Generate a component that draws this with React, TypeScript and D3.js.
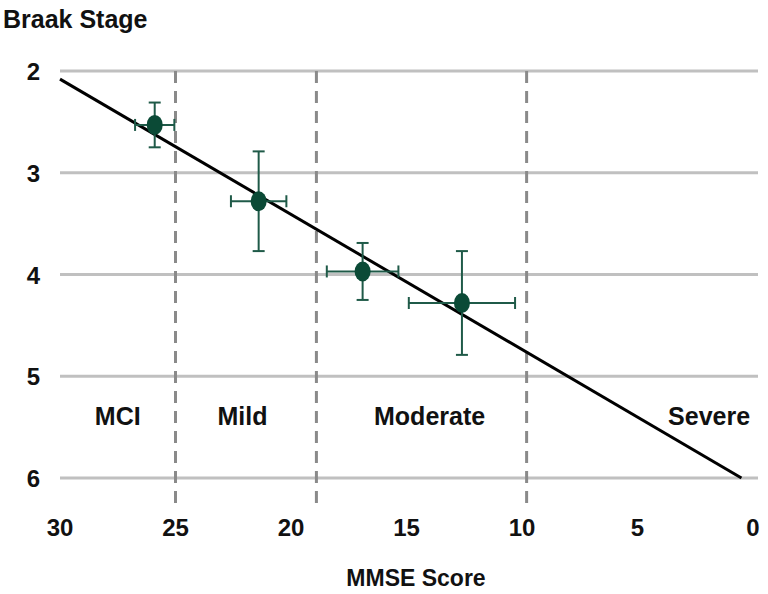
import React from "react";
import * as d3 from "d3";

// MMSE score (x) and Braak stage (y) with error bars
const mmse = [25.9, 21.4, 16.9, 12.6];
const mmseErr = [0.85, 1.2, 1.55, 2.3];
const braak = [2.53, 3.28, 3.97, 4.28];
const braakErr = [0.22, 0.49, 0.28, 0.51];

// fitted line endpoints
const fitX = [30, 0.5];
const fitY = [2.08, 6.0];

// stage boundaries and labels
const boundaries = [25, 18.9, 9.8];
const stageNames = ["MCI", "Mild", "Moderate", "Severe"];
const stageLabelX = [27.5, 22.1, 14.0, 1.9];

const xTicks = [30, 25, 20, 15, 10, 5, 0];
const yTicks = [2, 3, 4, 5, 6];

const W = 768;
const H = 594;
const FONT = "'Liberation Sans', Arial, sans-serif";

export default function App() {
  const x = d3.scaleLinear().domain([30, 0]).range([60, 753]);
  const y = d3.scaleLinear().domain([2, 6]).range([71, 478]);
  const line = d3
    .line<number>()
    .x((_, i) => x(fitX[i]))
    .y((d) => y(d));

  const markerColor = "#0b4a36";
  const errColor = "#1f5a48";
  const cap = 6;

  return (
    <svg
      width={W}
      height={H}
      style={{ position: "absolute", left: 0, top: 0, background: "#fff" }}
      fontFamily={FONT}
      fontWeight="bold"
    >
      {/* gridlines */}
      {yTicks.map((t) => (
        <line
          key={"g" + t}
          x1={60}
          x2={758}
          y1={y(t)}
          y2={y(t)}
          stroke="#c0c0c0"
          strokeWidth={3}
        />
      ))}
      {/* stage boundary dashed lines */}
      {boundaries.map((b) => (
        <line
          key={"b" + b}
          x1={x(b)}
          x2={x(b)}
          y1={y(2)}
          y2={510}
          stroke="#8a8a8a"
          strokeWidth={3}
          strokeDasharray="12 8"
        />
      ))}
      {/* y tick labels */}
      {yTicks.map((t) => (
        <text
          key={"yl" + t}
          x={40}
          y={y(t) + 9}
          textAnchor="end"
          fontSize={24}
          fill="#111"
        >
          {t}
        </text>
      ))}
      {/* x tick labels */}
      {xTicks.map((t) => (
        <text
          key={"xl" + t}
          x={x(t)}
          y={536}
          textAnchor="middle"
          fontSize={24}
          fill="#111"
        >
          {t}
        </text>
      ))}
      {/* stage labels */}
      {stageNames.map((s, i) => (
        <text
          key={s}
          x={x(stageLabelX[i])}
          y={425}
          textAnchor="middle"
          fontSize={25}
          fill="#111"
        >
          {s}
        </text>
      ))}
      {/* axis titles */}
      <text x={3} y={28} fontSize={25} fill="#111">
        Braak Stage
      </text>
      <text x={416} y={586} textAnchor="middle" fontSize={23} fill="#111">
        MMSE Score
      </text>

      {/* fitted line */}
      <path d={line(fitY) || ""} fill="none" stroke="#000" strokeWidth={3} />

      {/* error bars */}
      {mmse.map((m, i) => {
        const cx = x(m);
        const cy = y(braak[i]);
        const x1 = x(m + mmseErr[i]);
        const x2 = x(m - mmseErr[i]);
        const y1 = y(braak[i] - braakErr[i]);
        const y2 = y(braak[i] + braakErr[i]);
        return (
          <g key={"e" + i} stroke={errColor} strokeWidth={2}>
            <line x1={x1} x2={x2} y1={cy} y2={cy} />
            <line x1={x1} x2={x1} y1={cy - cap} y2={cy + cap} />
            <line x1={x2} x2={x2} y1={cy - cap} y2={cy + cap} />
            <line x1={cx} x2={cx} y1={y1} y2={y2} />
            <line x1={cx - cap} x2={cx + cap} y1={y1} y2={y1} />
            <line x1={cx - cap} x2={cx + cap} y1={y2} y2={y2} />
          </g>
        );
      })}
      {/* markers */}
      {mmse.map((m, i) => (
        <ellipse
          key={"m" + i}
          cx={x(m)}
          cy={y(braak[i])}
          rx={8}
          ry={10}
          fill={markerColor}
        />
      ))}
    </svg>
  );
}
